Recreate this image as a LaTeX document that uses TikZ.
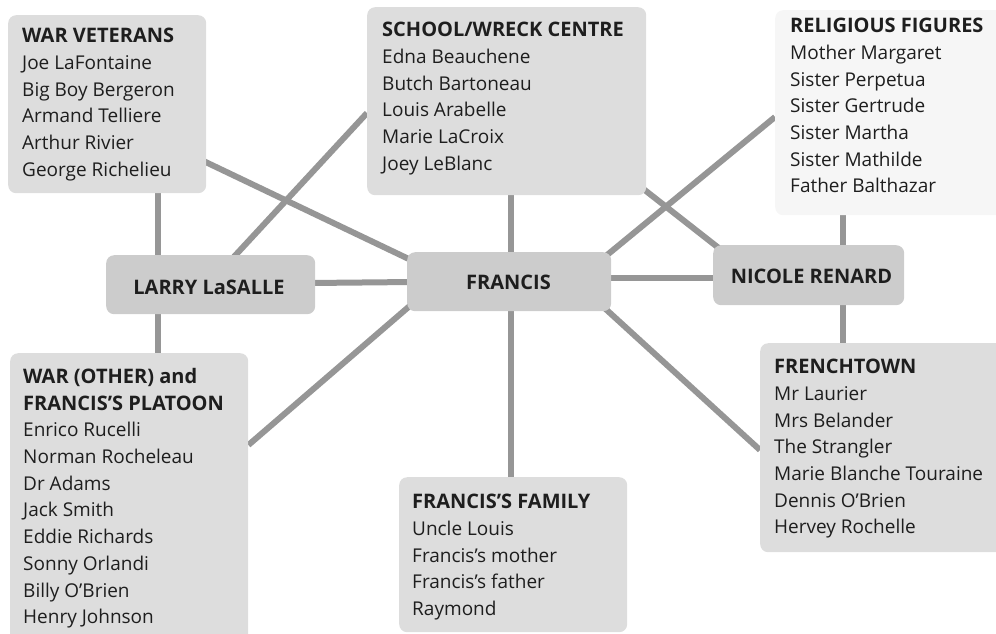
\documentclass[tikz,border=0pt]{standalone}
\usepackage{fontspec}
\setmainfont{Open Sans}
\usetikzlibrary{calc}
\definecolor{boxgray}{RGB}{221,221,221}
\definecolor{hubgray}{RGB}{204,204,204}
\definecolor{relgray}{RGB}{246,246,246}
\definecolor{linegray}{RGB}{150,150,150}
\definecolor{ink}{RGB}{30,30,30}
\newcommand\grouptitle[1]{{\fontsize{20pt}{26.7pt}\selectfont\bfseries #1}}
\tikzset{
  boxshape/.style={rectangle, rounded corners=8pt, inner sep=0pt, anchor=north west, fill=boxgray},
  hubshape/.style={boxshape, fill=hubgray},
  relshape/.style={boxshape, fill=relgray},
  listtext/.style={anchor=north west, inner sep=0pt, align=left, text=ink,
     font=\fontsize{19pt}{26.7pt}\selectfont},
  hubtext/.style={anchor=center, inner sep=0pt, text=ink, font=\fontsize{20pt}{24pt}\selectfont\bfseries},
  link/.style={draw=linegray, line width=6pt}
}
\begin{document}
\begin{tikzpicture}[x=1pt,y=-1pt]
\useasboundingbox (0,0) rectangle (996,633);
\clip (0,0) rectangle (996,633);
% box shapes (coordinates only, drawn after links)
\path
  (8,15)    node[boxshape, fill=none, minimum width=198pt, minimum height=178pt] (wv) {}
  (106,255) node[boxshape, fill=none, minimum width=209pt, minimum height=59pt] (larry) {}
  (367,7)   node[boxshape, fill=none, minimum width=279pt, minimum height=188pt] (school) {}
  (407,252) node[boxshape, fill=none, minimum width=204pt, minimum height=59pt] (francis) {}
  (775,10)  node[boxshape, fill=none, minimum width=240pt, minimum height=205pt] (relig) {}
  (713,245) node[boxshape, fill=none, minimum width=191pt, minimum height=60pt] (nicole) {}
  (760,343) node[boxshape, fill=none, minimum width=250pt, minimum height=209pt] (french) {}
  (10,353)  node[boxshape, fill=none, minimum width=238pt, minimum height=300pt] (wo) {}
  (399,477) node[boxshape, fill=none, minimum width=228pt, minimum height=155pt] (family) {};
% links
\draw[link] ($(wv.south west)+(150,-5)$) -- ($(larry.north west)+(52,5)$);
\draw[link] ($(larry.south west)+(52,-5)$) -- ($(wo.north west)+(148,5)$);
\draw[link] ($(larry.north east)+(-5,28)$) -- ($(francis.north west)+(5,30)$);
\draw[link] ($(larry.north west)+(125,5)$) -- ($(school.north west)+(0,106)$);
\draw[link] ($(wv.north east)+(-5,145)$) -- ($(francis.north west)+(6,9)$);
\draw[link] ($(school.south west)+(144,-5)$) -- ($(francis.north west)+(104,5)$);
\draw[link] ($(francis.north east)+(-8,6)$) -- ($(relig.north west)+(0,107)$);
\draw[link] ($(school.south east)+(-5,-8)$) -- ($(nicole.north west)+(7,4)$);
\draw[link] ($(francis.north east)+(-5,26)$) -- ($(nicole.north west)+(5,33)$);
\draw[link] ($(nicole.north west)+(130,5)$) -- ($(relig.south west)+(68,-5)$);
\draw[link] ($(nicole.south west)+(130,-5)$) -- ($(french.north west)+(83,5)$);
\draw[link] ($(francis.south west)+(8,-10)$) -- ($(wo.north east)+(0,92)$);
\draw[link] ($(francis.south west)+(104,-5)$) -- ($(family.north west)+(112,5)$);
\draw[link] ($(francis.south east)+(-13,-9)$) -- ($(french.north west)+(0,107)$);
% filled boxes
\path
  (8,15)    node[boxshape, minimum width=198pt, minimum height=178pt] (wvf) {}
  (106,255) node[hubshape, minimum width=209pt, minimum height=59pt] (larryf) {}
  (367,7)   node[boxshape, minimum width=279pt, minimum height=188pt] (schoolf) {}
  (407,252) node[hubshape, minimum width=204pt, minimum height=59pt] (francisf) {}
  (775,10)  node[relshape, minimum width=240pt, minimum height=205pt] (religf) {}
  (713,245) node[hubshape, minimum width=191pt, minimum height=60pt] (nicolef) {}
  (760,343) node[boxshape, minimum width=250pt, minimum height=209pt] (frenchf) {}
  (10,353)  node[boxshape, minimum width=238pt, minimum height=300pt] (wof) {}
  (399,477) node[boxshape, minimum width=228pt, minimum height=155pt] (familyf) {};
% hub labels
\node[hubtext] (larryt) at (209,287.5) {LARRY LaSALLE};
\node[hubtext] (francist) at (508.5,282.5) {FRANCIS};
\node[hubtext] (nicolet) at (811.5,276.5) {NICOLE RENARD};
% list texts
\node[listtext] (wvt) at (22,28) {\grouptitle{WAR VETERANS}\\Joe LaFontaine\\Big Boy Bergeron\\Armand Telliere\\Arthur Rivier\\George Richelieu};
\node[listtext] (schoolt) at (382,22) {\grouptitle{SCHOOL/WRECK CENTRE}\\Edna Beauchene\\Butch Bartoneau\\Louis Arabelle\\Marie LaCroix\\Joey LeBlanc};
\node[listtext] (religt) at (790,18) {\grouptitle{RELIGIOUS FIGURES}\\Mother Margaret\\Sister Perpetua\\Sister Gertrude\\Sister Martha\\Sister Mathilde\\Father Balthazar};
\node[listtext] (frencht) at (774,359) {\grouptitle{FRENCHTOWN}\\Mr Laurier\\Mrs Belander\\The Strangler\\Marie Blanche Touraine\\Dennis O’Brien\\Hervey Rochelle};
\node[listtext] (wot) at (23,368) {\grouptitle{WAR (OTHER) and}\\\grouptitle{FRANCIS’S PLATOON}\\Enrico Rucelli\\Norman Rocheleau\\Dr Adams\\Jack Smith\\Eddie Richards\\Sonny Orlandi\\Billy O’Brien\\Henry Johnson};
\node[listtext] (familyt) at (412,494) {\grouptitle{FRANCIS’S FAMILY}\\Uncle Louis\\Francis’s mother\\Francis’s father\\Raymond};
\end{tikzpicture}
\end{document}
